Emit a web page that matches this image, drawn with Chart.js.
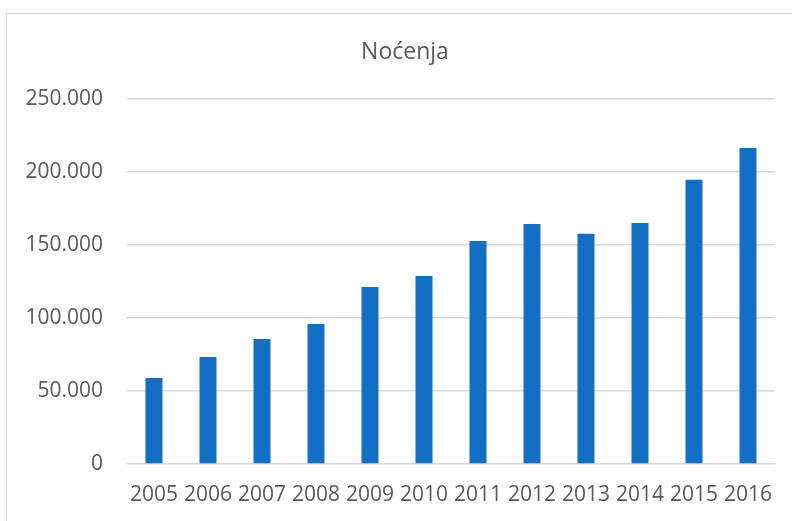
<!DOCTYPE html>
<html>
<head>
<meta charset="utf-8">
<title>Noćenja</title>
<script src="https://cdn.jsdelivr.net/npm/chart.js@4/dist/chart.umd.min.js"></script>
<style>
  html, body { margin: 0; padding: 0; background: #fff; overflow: hidden; }
  #wrap { position: relative; width: 792px; height: 521px; overflow: hidden; }
  #frame { position: absolute; left: 6px; top: 13px; width: 900px; height: 700px; border: 1.5px solid #d9d9d9; }
  #chart { position: absolute; left: 0; top: 0; }
</style>
</head>
<body>
<div id="wrap">
  <div id="frame"></div>
  <canvas id="chart" width="792" height="521"></canvas>
</div>
<script>
// data
const years = ["2005", "2006", "2007", "2008", "2009", "2010", "2011", "2012", "2013", "2014", "2015", "2016"]
const nights = [58900, 73300, 85600, 95900, 121200, 128800, 152700, 164400, 157700, 165100, 194700, 216400]
const yTicks = [0, 50000, 100000, 150000, 200000, 250000]
const titleText = "Noćenja"

const textColor = "#595959"
const gridColor = "#d9d9d9"

// 250000 -> "250.000"
function fmt(v) {
  return String(v).replace(/\B(?=(\d{3})+(?!\d))/g, ".")
}

// the title sits centred on the outer frame, not on the canvas
const frameTitle = {
  id: "frameTitle",
  afterDraw(chart) {
    const ctx = chart.ctx
    ctx.save()
    ctx.fillStyle = textColor
    ctx.font = "normal 23px 'Open Sans'"
    ctx.textAlign = "center"
    ctx.textBaseline = "middle"
    ctx.fillText(titleText, 405, 52)
    ctx.restore()
  },
}

new Chart(document.getElementById("chart"), {
  type: "bar",
  data: {
    labels: years,
    datasets: [
      {
        label: titleText,
        data: nights,
        backgroundColor: "#1170c6",
        barPercentage: 0.315,
        categoryPercentage: 1,
      },
    ],
  },
  plugins: [frameTitle],
  options: {
    responsive: false,
    animation: false,
    layout: { padding: { left: 0, right: 17, top: 99, bottom: 14 } },
    plugins: {
      legend: { display: false },
      tooltip: { enabled: false },
      title: { display: false },
    },
    scales: {
      x: {
        afterFit: (scale) => { scale.height = 43 },
        grid: { display: false, drawTicks: false },
        border: { display: false },
        ticks: {
          color: textColor,
          padding: 18,
          maxRotation: 0,
          autoSkip: false,
          font: { family: "'Open Sans'", size: 21, lineHeight: 1.2 },
        },
      },
      y: {
        min: 0,
        max: 250000,
        afterFit: (scale) => { scale.width = 127 },
        afterBuildTicks: (scale) => { scale.ticks = yTicks.map((v) => ({ value: v })) },
        grid: { color: gridColor, lineWidth: 1.5, drawTicks: false },
        border: { display: false },
        ticks: {
          color: textColor,
          padding: 24,
          font: { family: "'Open Sans'", size: 21, lineHeight: 1.2 },
          callback: (v) => fmt(v),
        },
      },
    },
  },
})
</script>
</body>
</html>
